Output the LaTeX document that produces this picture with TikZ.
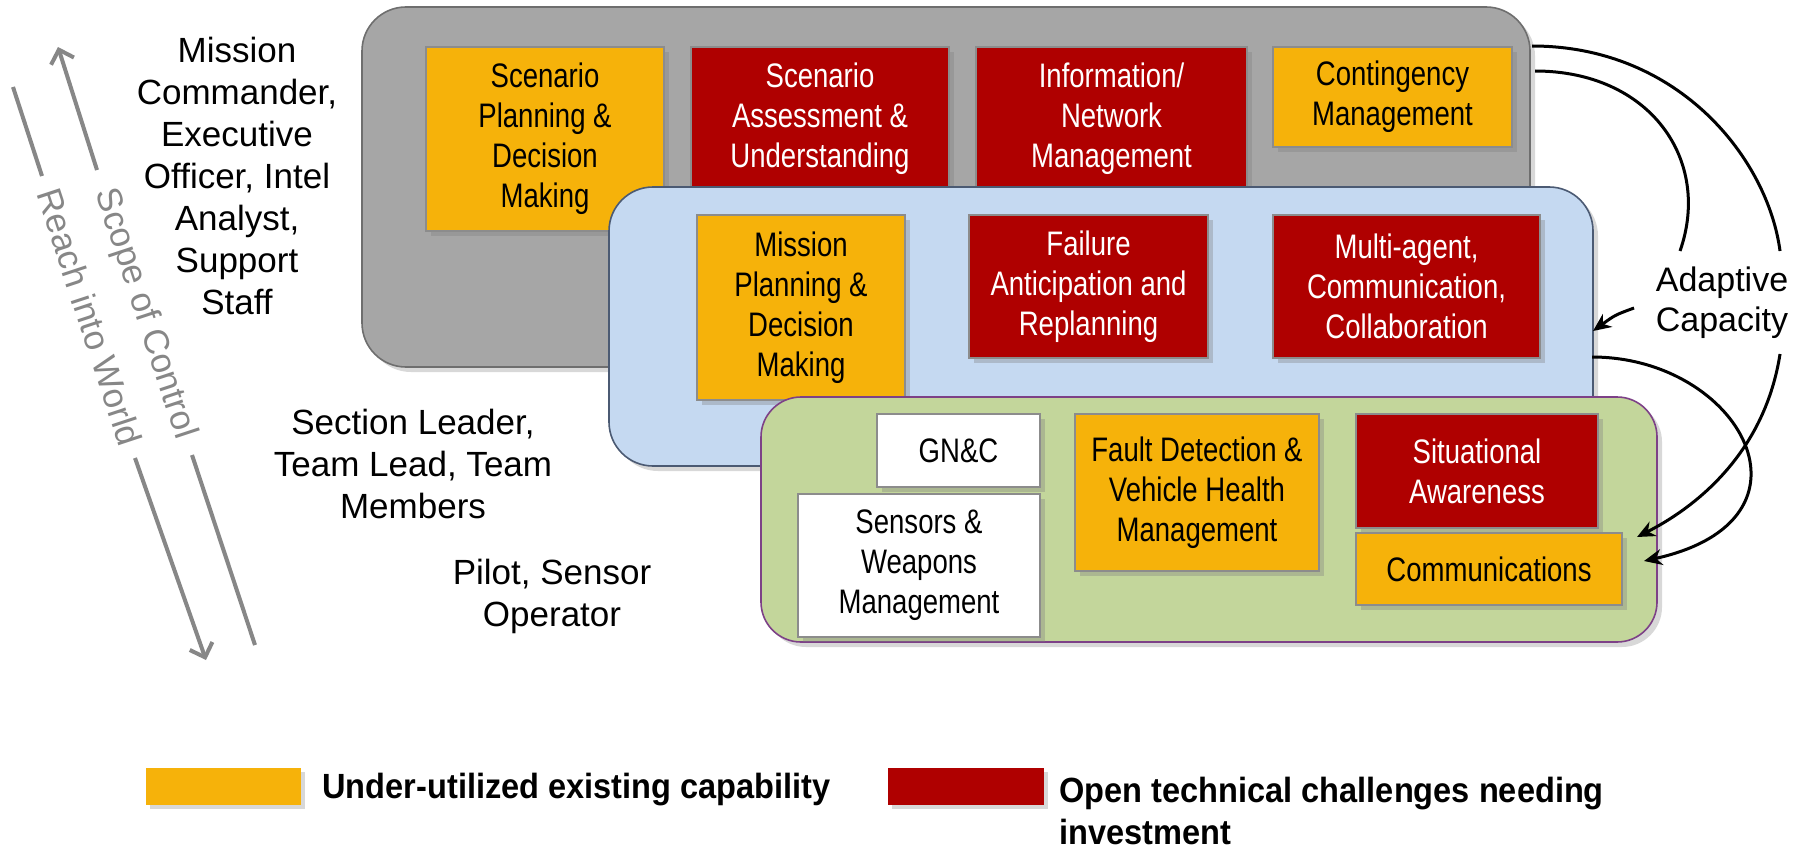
\documentclass[tikz,border=0pt]{standalone}
\usepackage{fontspec}
\setmainfont{Liberation Sans}
\newfontfamily\narrowfont{Liberation Sans}[FakeStretch=0.81]
\newfontfamily\legendfont{Liberation Sans}[FakeStretch=0.93]
\usetikzlibrary{arrows.meta,shadows,fit}
\definecolor{orangeF}{RGB}{246,178,10}
\definecolor{redF}{RGB}{175,0,0}
\definecolor{grayF}{RGB}{166,166,166}
\definecolor{blueF}{RGB}{197,217,241}
\definecolor{greenF}{RGB}{195,214,155}
\definecolor{grayB}{RGB}{110,110,110}
\definecolor{blueB}{RGB}{75,90,115}
\definecolor{greenB}{RGB}{125,65,135}
\definecolor{cellB}{RGB}{140,140,140}
\definecolor{axisGray}{RGB}{135,135,135}
\begin{document}
\begin{tikzpicture}[x=0.5pt,y=-0.5pt,
  container/.style={rounded corners=22pt, line width=0.8pt, inner sep=0pt,
    drop shadow={shadow xshift=2.5pt,shadow yshift=-2.5pt,opacity=0.3}},
  cell/.style={inner sep=0pt, line width=0.6pt, draw=cellB, align=center, anchor=center,
    font=\narrowfont\fontsize{17}{20}\selectfont,
    drop shadow={shadow xshift=2.5pt,shadow yshift=-2.5pt,opacity=0.35}},
  ocell/.style={cell, fill=orangeF, text=black},
  rcell/.style={cell, fill=redF, text=white},
  wcell/.style={cell, fill=white, text=black},
  swatch/.style={inner sep=0pt, draw=none,
    drop shadow={shadow xshift=2pt,shadow yshift=-2pt,opacity=0.3}},
  role/.style={align=center, inner sep=0pt, font=\fontsize{17.5}{21}\selectfont},
  legtext/.style={inner sep=0pt, align=left, font=\legendfont\bfseries\fontsize{17.5}{21}\selectfont},
  adapt/.style={line width=1.5pt, draw=black},
  tip/.style={-{Stealth[length=9pt,width=8pt]}},
  axis/.style={line width=2pt, draw=axisGray},
  barb/.style={-{Straight Barb[length=6pt,width=12pt]}},
  axistext/.style={text=axisGray, font=\fontsize{17.5}{20}\selectfont, rotate=-71.8, inner sep=0pt}
]
\useasboundingbox (0,0) rectangle (1802,856);
\fill[white] (0,0) rectangle (1802,856);

% ---- tier 1 (gray)
\node[container, fill=grayF, draw=grayB, fit={(362,7) (1530,367)}] (tier1) {};
\node[ocell, minimum width=119pt, minimum height=92pt] (spd) at (545,139) {Scenario\\Planning \&\\Decision\\Making};
\node[rcell, minimum width=129pt, minimum height=72pt] (sau) at (820,119) {Scenario\\Assessment \&\\Understanding};
\node[rcell, minimum width=135.5pt, minimum height=72pt] (inm) at (1111.5,119) {Information/\\Network\\Management};
\node[ocell, minimum width=119.5pt, minimum height=50pt] (cm) at (1392.5,97) {Contingency\\Management};

% ---- tier 2 (blue)
\node[container, fill=blueF, draw=blueB, fit={(609,187) (1593,466)}] (tier2) {};
\node[ocell, minimum width=104pt, minimum height=92.5pt] (mpd) at (801,307.5) {Mission\\Planning \&\\Decision\\Making};
\node[rcell, minimum width=119.5pt, minimum height=71.5pt] (far) at (1088.5,286.5) {Failure\\Anticipation and\\Replanning};
\node[rcell, minimum width=133.5pt, minimum height=71.5pt] (mac) at (1406.5,286.5) {Multi-agent,\\Communication,\\Collaboration};

% ---- tier 3 (green)
\node[container, rounded corners=20pt, fill=greenF, draw=greenB, fit={(761,397) (1657,642)}] (tier3) {};
\node[wcell, minimum width=81.5pt, minimum height=36.5pt] (gnc) at (958.5,450.5) {GN\&C};
\node[wcell, minimum width=121pt, minimum height=71.5pt] (swm) at (919,565.5) {Sensors \&\\Weapons\\Management};
\node[ocell, minimum width=122pt, minimum height=78.5pt] (fdv) at (1197,492.5) {Fault Detection \&\\Vehicle Health\\Management};
\node[rcell, minimum width=121pt, minimum height=57pt] (sa) at (1477,471) {Situational\\Awareness};
\node[ocell, minimum width=133pt, minimum height=36pt] (com) at (1489,569) {Communications};

% ---- role labels
\node[role] (cmd) at (237,176) {Mission\\Commander,\\Executive\\Officer, Intel\\Analyst,\\Support\\Staff};
\node[role] (sec) at (413,464) {Section Leader,\\Team Lead, Team\\Members};
\node[role] (pil) at (552,596) {Pilot, Sensor\\Operator};

% ---- scope / reach axes
\coordinate (soctop) at (58,47);
\coordinate (soca) at (97,170);
\coordinate (socb) at (192,455);
\coordinate (socbot) at (255,645);
\node[axistext] (soc) at (145,314) {Scope of Control};
\draw[axis,barb] (soca) -- (soctop);
\draw[axis] (socb) -- (socbot);

\coordinate (rtop) at (13,87);
\coordinate (ra) at (42,176);
\coordinate (rb) at (135,458);
\coordinate (rbot) at (206,660);
\node[axistext] (riw) at (90,317) {Reach into World};
\draw[axis] (rtop) -- (ra);
\draw[axis,barb] (rb) -- (rbot);

% ---- adaptive capacity
\node[align=center, inner sep=0pt, font=\fontsize{17}{20}\selectfont] (ac) at (1722,303) {Adaptive\\Capacity};
\coordinate (a1s) at (1532,46);
\coordinate (a1e) at (1780,251);
\coordinate (a2s) at (1535,71);
\coordinate (a2e) at (1680,251);
\coordinate (a3s) at (1634,308);
\coordinate (a3e) at (1593,331);
\coordinate (a4s) at (1780,354);
\coordinate (a4e) at (1637,537);
\coordinate (a5s) at (1592,357);
\coordinate (a5e) at (1644,561);
\draw[adapt] (a1s) .. controls (1680,46) and (1768,160) .. (a1e);
\draw[adapt] (a2s) .. controls (1650,71) and (1712,160) .. (a2e);
\draw[adapt,tip] (a3s) .. controls (1615,315) .. (a3e);
\draw[adapt,tip] (a4s) .. controls (1765,450) and (1700,505) .. (a4e);
\draw[adapt,tip] (a5s) .. controls (1740,357) and (1830,520) .. (a5e);

% ---- legend
\node[swatch, fill=orangeF, fit={(146,768) (301,805)}] (lg1) {};
\node[legtext, anchor=west] (lt1) at (322,790) {Under-utilized existing capability};
\node[swatch, fill=redF, fit={(888,768) (1044,805)}] (lg2) {};
\node[legtext, anchor=west] (lt2) at (1059,811) {Open technical challenges needing\\investment};
\end{tikzpicture}
\end{document}
